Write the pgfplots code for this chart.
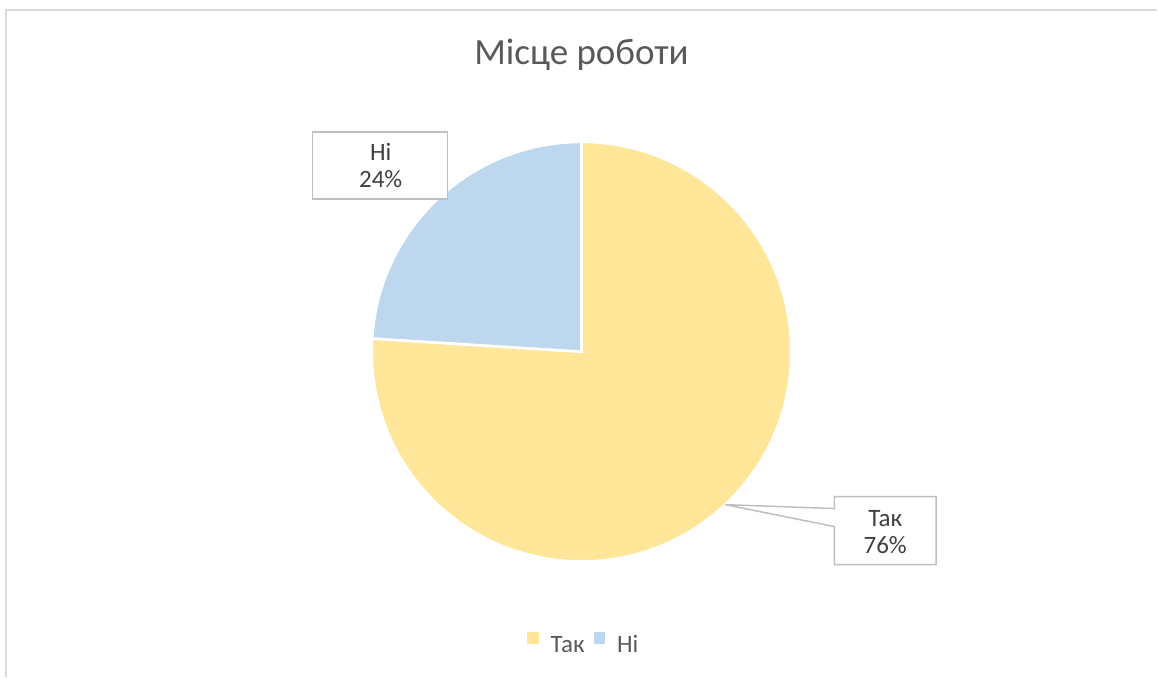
\documentclass[border=0pt]{standalone}
\usepackage{pgfplots}
\usepackage{pgfplotstable}
\pgfplotsset{compat=1.18}
\usepackage{fontspec}
\setmainfont{Carlito}

\definecolor{takcol}{HTML}{FFE699}
\definecolor{nicol}{HTML}{BDD7EE}
\definecolor{txtgray}{HTML}{595959}
\definecolor{lblgray}{HTML}{404040}
\definecolor{boxgray}{HTML}{BFBFBF}
\definecolor{framegray}{HTML}{D9D9D9}

\pgfplotstableread{
label value
Так 76
Ні 24
}\piedata

\pgfplotstablegetelem{0}{value}\of\piedata \let\va\pgfplotsretval
\pgfplotstablegetelem{1}{value}\of\piedata \let\vb\pgfplotsretval
\pgfmathsetmacro\total{\va+\vb}
\pgfmathsetmacro\fracA{\va/\total}
\pgfmathsetmacro\angA{90-360*\fracA}
\pgfmathsetmacro\midA{90-180*\fracA}
\pgfmathparse{int(round(100*\fracA))}\let\pctA\pgfmathresult
\pgfmathparse{int(100-\pctA)}\let\pctB\pgfmathresult
\def\R{126pt}

\begin{document}
\begin{tikzpicture}
\begin{axis}[
    x=0.6pt, y=0.6pt,
    xmin=0, xmax=1158, ymin=0, ymax=678,
    hide axis, clip=false,
    legend columns=-1,
    legend style={at={(axis cs:585,32)}, anchor=center, draw=none, fill=none,
        font=\fontsize{15}{18}\selectfont, text=txtgray,
        /tikz/every odd column/.append style={column sep=5pt},
        /tikz/every even column/.append style={column sep=3.5pt}},
    legend image code/.code={\fill[#1, draw=none] (0pt,0.8pt) rectangle (7pt,7.8pt);},
]
\path (axis cs:0,0) rectangle (axis cs:1158,678);
\draw[framegray, line width=1.2pt] (axis cs:6,0) -- (axis cs:6,668) -- (axis cs:1158,668);

% slices
\fill[takcol, draw=white, line width=1.6pt] (axis cs:582,326) -- ++(90:\R)
    arc[start angle=90, end angle=\angA, radius=\R] -- cycle;
\fill[nicol, draw=white, line width=1.6pt] (axis cs:582,326) -- ++(\angA:\R)
    arc[start angle=\angA, end angle=-270, radius=\R] -- cycle;

% data labels
\filldraw[fill=white, draw=boxgray, line width=0.9pt]
    (axis cs:313,546) rectangle (axis cs:448,479);
\node[text=lblgray, font=\fontsize{15}{18}\selectfont, anchor=base]
    at (axis cs:381,517) {Ні};
\node[text=lblgray, font=\fontsize{15}{18}\selectfont, anchor=base]
    at (axis cs:381,490) {\pctB\%};

\filldraw[fill=white, draw=boxgray, line width=0.9pt]
    (axis cs:835,181) -- (axis cs:937,181) -- (axis cs:937,113) -- (axis cs:835,113)
    -- (axis cs:835,151) -- ([shift={(\midA:\R)}]axis cs:582,326)
    -- (axis cs:835,169) -- cycle;
\node[text=lblgray, font=\fontsize{15}{18}\selectfont, anchor=base]
    at (axis cs:886,151) {Так};
\node[text=lblgray, font=\fontsize{15}{18}\selectfont, anchor=base]
    at (axis cs:886,124) {\pctA\%};

% title
\node[text=txtgray, font=\fontsize{22.2}{26}\selectfont, anchor=base]
    at (axis cs:582,613) {Місце роботи};

\addlegendimage{fill=takcol}
\addlegendentry{Так}
\addlegendimage{fill=nicol}
\addlegendentry{Ні}
\end{axis}
\end{tikzpicture}
\end{document}
